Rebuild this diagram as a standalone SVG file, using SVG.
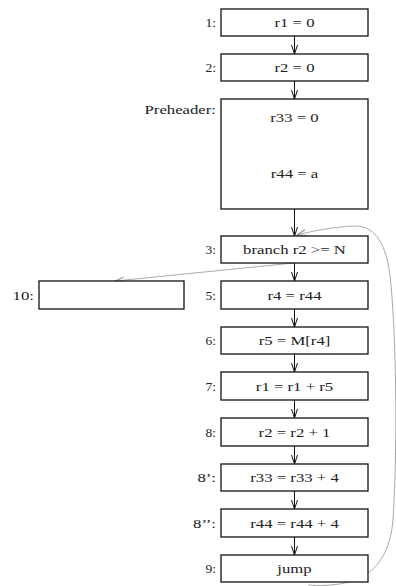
<svg xmlns="http://www.w3.org/2000/svg" width="396" height="586" viewBox="0 0 396 586">
<style>
.b{fill:#fff;stroke:#111;stroke-width:1.3}
.t{font-family:"Liberation Serif","Times New Roman",serif;font-size:13.5px;fill:#222;text-anchor:middle}
.l{font-family:"Liberation Serif","Times New Roman",serif;font-size:13.5px;fill:#222;text-anchor:end}
.e{fill:none;stroke:#111;stroke-width:1}
.g{fill:none;stroke:#aaa;stroke-width:1}
</style>
<defs>
<marker id="ak" markerUnits="userSpaceOnUse" markerWidth="12" markerHeight="10" refX="10" refY="5" orient="auto">
<path d="M1,2 L10,5 L1,8" fill="none" stroke="#111" stroke-width="1"/>
</marker>
<marker id="ag" markerUnits="userSpaceOnUse" markerWidth="12" markerHeight="10" refX="10" refY="5" orient="auto">
<path d="M1,2 L10,5 L1,8" fill="none" stroke="#888" stroke-width="1"/>
</marker>
</defs>
<g id="connectors">
<path class="e" marker-end="url(#ak)" d="M294.5,36 V54"/>
<path class="e" marker-end="url(#ak)" d="M294.5,81 V99"/>
<path class="e" marker-end="url(#ak)" d="M294.5,209 V236"/>
<path class="e" marker-end="url(#ak)" d="M294.5,263 V281"/>
<path class="e" marker-end="url(#ak)" d="M294.5,309 V327"/>
<path class="e" marker-end="url(#ak)" d="M294.5,354 V372"/>
<path class="e" marker-end="url(#ak)" d="M294.5,400 V418"/>
<path class="e" marker-end="url(#ak)" d="M294.5,446 V464"/>
<path class="e" marker-end="url(#ak)" d="M294.5,491 V509"/>
<path class="e" marker-end="url(#ak)" d="M294.5,537 V555"/>
<path class="g" marker-end="url(#ag)" d="M294,263 L115,281"/>
<path class="g" marker-end="url(#ag)" d="M308,585 C355,588 388,575 393,520 C398,440 396,330 390,275 C385,238 372,226 355,226 C332,227 312,231 297,235"/>
</g>
<g id="n1"><rect class="b" x="221" y="9" width="147" height="27"/><text class="l" x="216" y="27">1:</text><text class="t" transform="translate(294.5,27) scale(1.24,1)">r1 = 0</text></g>
<g id="n2"><rect class="b" x="221" y="54" width="147" height="27"/><text class="l" x="216" y="72">2:</text><text class="t" transform="translate(294.5,72) scale(1.24,1)">r2 = 0</text></g>
<g id="pre"><rect class="b" x="221" y="99" width="147" height="110"/><text class="l" transform="translate(216,114) scale(1.24,1)" x="0" y="0">Preheader:</text><text class="t" transform="translate(294.5,122) scale(1.24,1)">r33 = 0</text><text class="t" transform="translate(294.5,178) scale(1.24,1)">r44 = a</text></g>
<g id="n3"><rect class="b" x="221" y="236" width="147" height="27"/><text class="l" x="216" y="254">3:</text><text class="t" transform="translate(294.5,254) scale(1.24,1)">branch r2 &gt;= N</text></g>
<g id="n10"><rect class="b" x="39" y="281" width="145" height="28"/><text class="l" transform="translate(34,299.5) scale(1.24,1)">10:</text></g>
<g id="n5"><rect class="b" x="221" y="281" width="147" height="28"/><text class="l" x="216" y="299.5">5:</text><text class="t" transform="translate(294.5,299.5) scale(1.24,1)">r4 = r44</text></g>
<g id="n6"><rect class="b" x="221" y="327" width="147" height="27"/><text class="l" x="216" y="345">6:</text><text class="t" transform="translate(294.5,345) scale(1.24,1)">r5 = M[r4]</text></g>
<g id="n7"><rect class="b" x="221" y="372" width="147" height="28"/><text class="l" x="216" y="390.5">7:</text><text class="t" transform="translate(294.5,390.5) scale(1.24,1)">r1 = r1 + r5</text></g>
<g id="n8"><rect class="b" x="221" y="418" width="147" height="28"/><text class="l" x="216" y="436.5">8:</text><text class="t" transform="translate(294.5,436.5) scale(1.24,1)">r2 = r2 + 1</text></g>
<g id="n8p"><rect class="b" x="221" y="464" width="147" height="27"/><text class="l" transform="translate(216,482) scale(1.24,1)">8’:</text><text class="t" transform="translate(294.5,482) scale(1.24,1)">r33 = r33 + 4</text></g>
<g id="n8pp"><rect class="b" x="221" y="509" width="147" height="28"/><text class="l" transform="translate(216,527.5) scale(1.24,1)">8’’:</text><text class="t" transform="translate(294.5,527.5) scale(1.24,1)">r44 = r44 + 4</text></g>
<g id="n9"><rect class="b" x="221" y="555" width="147" height="27"/><text class="l" x="216" y="573">9:</text><text class="t" transform="translate(294.5,573) scale(1.24,1)">jump</text></g>
</svg>
